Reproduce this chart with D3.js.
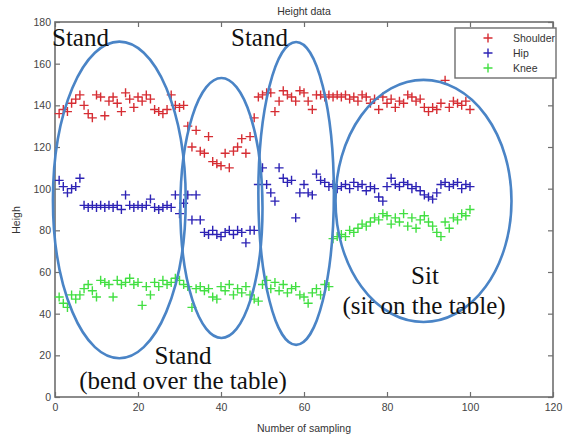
<!DOCTYPE html>
<html>
<head>
<meta charset="utf-8">
<script src="https://cdn.jsdelivr.net/npm/d3@7/dist/d3.min.js"></script>
<style>
  body { margin: 0; background: #fff; }
  svg { display: block; }
</style>
</head>
<body>
<svg id="chart" width="566" height="440"></svg>
<script>
// sample values, index 1..100
const shoulder = [
  136, 138, 137, 141, 143, 145, 140, 136, 134, 145,
  144, 135, 142, 144, 141, 137, 146, 143, 139, 144,
  142, 145, 143, 138, 137, 136, 138, 145, 140, 139,
  140, 130, 120, 128, 118, 117, 125, 113, 112, 111,
  117, 110, 118, 120, 124, 117, 125, 134, 144, 145,
  146, 146, 137, 142, 147, 145, 144, 142, 147, 146,
  142, 138, 145, 145, 144, 145, 144, 145, 144, 145,
  143, 144, 142, 145, 144, 141, 143, 138, 144, 141,
  143, 139, 142, 141, 145, 144, 142, 143, 139, 137,
  139, 138, 141, 152, 139, 142, 141, 140, 142, 138
];
const hip = [
  104, 101, 98, 100, 101, 105, 92, 91, 92, 91,
  92, 91, 92, 91, 92, 90, 97, 92, 91, 92,
  91, 92, 95, 91, 90, 91, 92, 91, 97, 88,
  93, 97, 85, 97, 85, 79, 78, 80, 78, 77,
  79, 80, 78, 80, 79, 74, 80, 80, 102, 110,
  102, 98, 94, 110, 105, 103, 104, 86, 98, 102,
  98, 97, 107, 104, 103, 101, 102, 100, 101, 102,
  100, 103, 101, 102, 99, 101, 100, 96, 94, 101,
  105, 102, 101, 103, 102, 100, 101, 99, 97, 96,
  95, 98, 102, 103, 101, 102, 103, 100, 102, 101
];
const knee = [
  48, 45, 43, 49, 47, 49, 52, 54, 51, 48,
  56, 55, 54, 48, 56, 54, 55, 57, 54, 55,
  44, 53, 49, 55, 53, 56, 54, 55, 57, 56,
  54, 53, 43, 52, 53, 51, 52, 48, 47, 53,
  51, 54, 49, 52, 50, 53, 49, 47, 46, 54,
  56, 52, 55, 51, 54, 50, 52, 53, 49, 48,
  45, 50, 52, 49, 54, 53, 76, 77, 78, 77,
  80, 79, 81, 83, 82, 84, 86, 85, 88, 87,
  83, 86, 84, 88, 82, 86, 81, 85, 87, 84,
  82, 79, 77, 84, 81, 86, 85, 88, 87, 90
];
const seriesNames = ["Shoulder", "Hip", "Knee"];
const seriesColors = ["#d62d33", "#2d23b5", "#42df42"];
const xTicks = [0, 20, 40, 60, 80, 100, 120];
const yTicks = [0, 20, 40, 60, 80, 100, 120, 140, 160, 180];

// hand-drawn grouping ellipses, in data units: [cx, cy, rx, ry]
const groups = [
  [15.5, 94.6, 16.0, 76.0],
  [40.1, 90.7, 9.9, 62.4],
  [58.1, 97.7, 9.1, 72.7],
  [88.8, 94.1, 21.2, 58.1]
];

const plotL = 55, plotR = 553, plotT = 22, plotB = 397;
const svg = d3.select("#chart");

const x = d3.scaleLinear().domain([0, 120]).range([plotL, plotR]);
const y = d3.scaleLinear().domain([0, 180]).range([plotB, plotT]);

// frame
svg.append("rect")
  .attr("x", plotL).attr("y", plotT)
  .attr("width", plotR - plotL).attr("height", plotB - plotT)
  .attr("fill", "#fff").attr("stroke", "#6e6e6e").attr("stroke-width", 1.6);

// axes with inward ticks on all four sides
function styleAxis(g) {
  g.select(".domain").remove();
  g.selectAll(".tick line").attr("stroke", "#6e6e6e").attr("stroke-width", 1.2);
  g.selectAll("text").attr("fill", "#444").style("font-family", "Liberation Sans, Arial, sans-serif").style("font-size", "10.5px");
}
svg.append("g").attr("transform", `translate(0,${plotB})`)
  .call(d3.axisBottom(x).tickValues(xTicks).tickSize(-5).tickPadding(7))
  .call(styleAxis);
svg.append("g").attr("transform", `translate(0,${plotT})`)
  .call(d3.axisTop(x).tickValues(xTicks).tickSize(-5).tickFormat(""))
  .call(styleAxis);
svg.append("g").attr("transform", `translate(${plotL},0)`)
  .call(d3.axisLeft(y).tickValues(yTicks).tickSize(-5).tickPadding(4))
  .call(styleAxis);
svg.append("g").attr("transform", `translate(${plotR},0)`)
  .call(d3.axisRight(y).tickValues(yTicks).tickSize(-5).tickFormat(""))
  .call(styleAxis);

// titles
const labelFont = "Liberation Sans, Arial, sans-serif";
svg.append("text").attr("x", (plotL + plotR) / 2).attr("y", 15)
  .attr("text-anchor", "middle").style("font-family", labelFont).style("font-size", "10.5px")
  .attr("fill", "#333").text("Height data");
svg.append("text").attr("x", (plotL + plotR) / 2).attr("y", 432)
  .attr("text-anchor", "middle").style("font-family", labelFont).style("font-size", "10.5px")
  .attr("fill", "#333").text("Number of sampling");
svg.append("text").attr("transform", "translate(20,220) rotate(-90)")
  .attr("text-anchor", "middle").style("font-family", labelFont).style("font-size", "10.5px")
  .attr("fill", "#333").text("Heigh");

// plus markers
function plus(sel, color) {
  sel.append("path")
    .attr("d", "M-4.5,0H4.5M0,-4.5V4.5")
    .attr("stroke", color).attr("stroke-width", 1.4).attr("fill", "none");
}
const allSeries = [shoulder, hip, knee];
allSeries.forEach((vals, k) => {
  svg.append("g").selectAll("g")
    .data(vals)
    .join("g")
    .attr("transform", (d, i) => `translate(${x(i + 1)},${y(d)})`)
    .call(plus, seriesColors[k]);
});

// ellipses
svg.append("g").selectAll("ellipse")
  .data(groups)
  .join("ellipse")
  .attr("cx", d => x(d[0]))
  .attr("cy", d => y(d[1]))
  .attr("rx", d => x(d[2]) - x(0))
  .attr("ry", d => y(0) - y(d[3]))
  .attr("fill", "none")
  .attr("stroke", "#4a84c6")
  .attr("stroke-width", 2.6);

// annotations
const notes = [
  ["Stand", 52, 46, "start"],
  ["Stand", 231, 46, "start"],
  ["Stand", 183, 364, "middle"],
  ["(bend over the table)", 183, 389, "middle"],
  ["Sit", 425, 284, "middle"],
  ["(sit on the table)", 424, 314, "middle"]
];
svg.append("g").selectAll("text")
  .data(notes)
  .join("text")
  .attr("x", d => d[1]).attr("y", d => d[2])
  .attr("text-anchor", d => d[3])
  .style("font-family", "Liberation Serif, Times New Roman, serif")
  .style("font-size", "25px")
  .attr("fill", "#111")
  .text(d => d[0]);

// legend
const lg = svg.append("g").attr("transform", "translate(455,28)");
lg.append("rect").attr("width", 101).attr("height", 50)
  .attr("fill", "#fff").attr("stroke", "#6e6e6e").attr("stroke-width", 1.4);
seriesNames.forEach((name, k) => {
  const row = lg.append("g").attr("transform", `translate(33,${10 + k * 15})`);
  row.call(plus, seriesColors[k]);
  row.append("text").attr("x", 25).attr("y", 4)
    .style("font-family", labelFont).style("font-size", "10.5px")
    .attr("fill", "#333").text(name);
});
</script>
</body>
</html>
